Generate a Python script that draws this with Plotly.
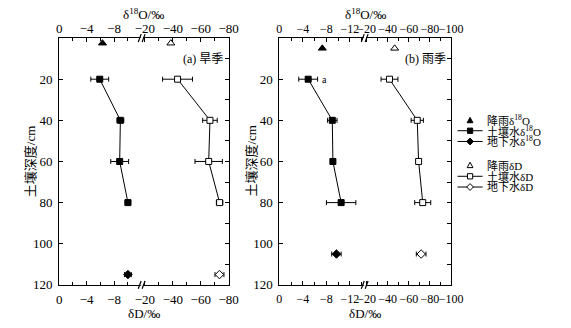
import plotly.graph_objects as go

W, H = 571, 328
FONT = "Liberation Serif, Noto Sans CJK SC, serif"

# ---------------- data ----------------
depth_soil = [20, 40, 60, 80]
depth_ticks = [20, 40, 60, 80, 100, 120]

# dry season (旱季)
dry_rain_depth = [2.5]
dry_rain_o18 = [-6.3]
dry_rain_dD = [-38.6]
dry_soil_o18 = [-5.9, -8.9, -8.8, -10.0]
dry_soil_o18_err = [1.3, 0.5, 1.3, 0.4]
dry_soil_dD = [-43.4, -66.6, -65.7, -73.5]
dry_soil_dD_err = [10.7, 5.2, 9.8, 2.3]
dry_gw_depth = [115]
dry_gw_o18 = [-10.0]
dry_gw_o18_err = [0.5]
dry_gw_dD = [-73.4]
dry_gw_dD_err = [3.2]
dry_o18_ticks = [0, -4, -8]
dry_dD_ticks = [-20, -40, -60, -80]

# rainy season (雨季)
wet_rain_depth = [5]
wet_rain_o18 = [-7.3]
wet_rain_dD = [-46.6]
wet_soil_o18 = [-4.9, -9.0, -9.1, -10.5]
wet_soil_o18_err = [1.6, 0.8, 0.0, 2.5]
wet_soil_dD = [-41.7, -68.0, -69.3, -73.2]
wet_soil_dD_err = [8.0, 5.8, 0.0, 7.6]
wet_gw_depth = [105]
wet_gw_o18 = [-9.7]
wet_gw_o18_err = [0.8]
wet_gw_dD = [-71.7]
wet_gw_dD_err = [4.6]
wet_o18_ticks = [0, -4, -8, -12]
wet_dD_ticks = [-20, -40, -60, -80, -100]

legend_labels = ["降雨δ<sup>18</sup>O", "土壤水δ<sup>18</sup>O", "地下水δ<sup>18</sup>O",
                 "降雨δD", "土壤水δD", "地下水δD"]


def px(x):
    return x / W


def py(y):
    return 1 - y / H


# plot-area geometry (pixels)
TOP, BOT = 39, 292
A_L, A_B, A_R = 54, 139.3, 229.3
B_L, B_B, B_R = 281.7, 370, 459.3
ydom = [py(BOT), py(TOP)]

fig = go.Figure()


def err(vals):
    return dict(type="data", array=vals, symmetric=True, color="black",
                thickness=1, width=2.5)


def add_series(x, y, e, xa, ya, symbol, filled, mode="markers"):
    size = {"square": 6, "diamond": 6.5, "triangle-up": 7}[symbol]
    fig.add_trace(go.Scatter(
        x=x, y=y, mode=mode, xaxis=xa, yaxis=ya, showlegend=False,
        error_x=err(e) if e is not None else None,
        line=dict(color="black", width=1),
        marker=dict(symbol=symbol, size=size,
                    color="black" if filled else "white",
                    line=dict(color="black", width=1)),
    ))


# panel (a): δ18O on top-left axis x3, δD on bottom-right axis x2
add_series(dry_rain_o18, dry_rain_depth, None, "x3", "y", "triangle-up", True)
add_series(dry_soil_o18, depth_soil, dry_soil_o18_err, "x3", "y", "square", True, "lines+markers")
add_series(dry_gw_o18, dry_gw_depth, dry_gw_o18_err, "x3", "y", "diamond", True)
add_series(dry_rain_dD, dry_rain_depth, None, "x2", "y", "triangle-up", False)
add_series(dry_soil_dD, depth_soil, dry_soil_dD_err, "x2", "y", "square", False, "lines+markers")
add_series(dry_gw_dD, dry_gw_depth, dry_gw_dD_err, "x2", "y", "diamond", False)

# panel (b): δ18O on top-left axis x7, δD on bottom-right axis x6
add_series(wet_rain_o18, wet_rain_depth, None, "x7", "y2", "triangle-up", True)
add_series(wet_soil_o18, depth_soil, wet_soil_o18_err, "x7", "y2", "square", True, "lines+markers")
add_series(wet_gw_o18, wet_gw_depth, wet_gw_o18_err, "x7", "y2", "diamond", True)
add_series(wet_rain_dD, wet_rain_depth, None, "x6", "y2", "triangle-up", False)
add_series(wet_soil_dD, depth_soil, wet_soil_dD_err, "x6", "y2", "square", False, "lines+markers")
add_series(wet_gw_dD, wet_gw_depth, wet_gw_dD_err, "x6", "y2", "diamond", False)

# empty traces so every axis pair is instantiated
for xa, ya in [("x", "y"), ("x4", "y"), ("x2", "y3"), ("x5", "y2"), ("x8", "y2"), ("x6", "y4")]:
    fig.add_trace(go.Scatter(x=[], y=[], xaxis=xa, yaxis=ya, showlegend=False))

tickfont = dict(family=FONT, size=13, color="black")
tickfont_b = dict(family=FONT, size=12, color="black")


def xax(domain, rng, tickvals, minor, side, anchor="y", overlaying=None, font=tickfont):
    d = dict(range=rng, tickmode="array", tickvals=tickvals, ticks="inside",
             ticklen=4, tickwidth=1, tickcolor="black", showline=True,
             linecolor="black", linewidth=1, showgrid=False, zeroline=False,
             side=side, anchor=anchor, tickfont=font, tickangle=0,
             ticklabelstandoff=(-1 if side == "top" else 3),
             minor=dict(tickmode="linear", tick0=0, dtick=minor, ticks="inside",
                        ticklen=2.5, tickcolor="black", showgrid=False))
    if overlaying:
        d["overlaying"] = overlaying
    else:
        d["domain"] = domain
    return d


def yax_left(anchor):
    return dict(domain=ydom, range=[120, 0], tickmode="array", tickvals=depth_ticks,
                ticks="inside", ticklen=4, tickcolor="black", showline=True,
                linecolor="black", linewidth=1, showgrid=False, zeroline=False,
                anchor=anchor, side="left", tickfont=tickfont, ticklabelstandoff=3)


def yax_right(overlay, anchor):
    return dict(range=[120, 0], tickmode="linear", tick0=0, dtick=10,
                ticks="inside", ticklen=4, tickcolor="black", showline=True,
                linecolor="black", linewidth=1, showgrid=False, zeroline=False,
                showticklabels=False, overlaying=overlay, anchor=anchor, side="right")


fig.update_layout(
    xaxis=xax([px(A_L), px(A_B)], [0, -12], dry_o18_ticks, 2, "bottom"),
    xaxis2=xax([px(A_B), px(A_R)], [-17.7, -80], dry_dD_ticks, 10, "bottom"),
    xaxis3=xax(None, [0, -12], dry_o18_ticks, 2, "top", overlaying="x"),
    xaxis4=xax(None, [-17.7, -80], dry_dD_ticks, 10, "top", overlaying="x2"),
    xaxis5=xax([px(B_L), px(B_B)], [0, -14.5], wet_o18_ticks, 2, "bottom",
               anchor="y2", font=tickfont_b),
    xaxis6=xax([px(B_B), px(B_R)], [-18.2, -100], wet_dD_ticks, 10, "bottom",
               anchor="y2", font=tickfont_b),
    xaxis7=xax(None, [0, -14.5], wet_o18_ticks, 2, "top", anchor="y2",
               overlaying="x5", font=tickfont_b),
    xaxis8=xax(None, [-18.2, -100], wet_dD_ticks, 10, "top", anchor="y2",
               overlaying="x6", font=tickfont_b),
    yaxis=yax_left("x"),
    yaxis2=yax_left("x5"),
    yaxis3=yax_right("y", "x2"),
    yaxis4=yax_right("y2", "x6"),
)

# ---------------- text ----------------
ann = []


def text(x, y, s, size=13, xanchor="center", angle=0):
    ann.append(dict(x=px(x), y=py(y), xref="paper", yref="paper", text=s,
                    showarrow=False, xanchor=xanchor, yanchor="middle",
                    textangle=angle, font=dict(family=FONT, size=size, color="black")))


for cx in [(A_L + A_R) / 2, (B_L + B_R) / 2]:
    text(cx, 14, "δ<sup>18</sup>O/‰")
    text(cx, 321, "δD/‰")
text(25, 165, "土壤深度/cm", angle=-90)
text(253, 165, "土壤深度/cm", angle=-90)
text(226, 60, "(a) 旱季", size=12, xanchor="right")
text(456, 60, "(b) 雨季", size=12, xanchor="right")
ann.append(dict(x=-7.6, y=20, xref="x7", yref="y2", text="a", showarrow=False,
                font=dict(family=FONT, size=10, color="black")))

# ---------------- axis breaks & legend ----------------
shapes = []


def seg(x0, y0, x1, y1, color="black", width=1):
    shapes.append(dict(type="line", xref="paper", yref="paper", x0=px(x0), y0=py(y0),
                       x1=px(x1), y1=py(y1), line=dict(color=color, width=width)))


def poly(pts, fill):
    path = "M " + " L ".join(f"{px(x):.5f},{py(y):.5f}" for x, y in pts) + " Z"
    shapes.append(dict(type="path", xref="paper", yref="paper", path=path,
                       fillcolor=fill, line=dict(color="black", width=1)))


for bx in [A_B, B_B]:
    for by in [TOP, BOT]:
        seg(bx - 1, by, bx + 1.5, by, color="white", width=2)
        seg(bx - 3.5, by + 4, bx - 0.5, by - 4, width=1.2)
        seg(bx + 0.5, by + 4, bx + 3.5, by - 4, width=1.2)

leg_rows = [123.3, 134, 145, 169.3, 180.7, 191.7]
leg_kind = ["tri", "sq", "dia", "tri", "sq", "dia"]
leg_line = [False, True, True, False, True, True]
LX0, LX1, LC, LT = 466, 492, 479, 494
for i, (ly, kind, has_line, label) in enumerate(zip(leg_rows, leg_kind, leg_line, legend_labels)):
    fill = "black" if i < 3 else "white"
    if has_line:
        seg(LX0, ly, LX1, ly)
    if kind == "tri":
        poly([(LC - 3, ly + 2.5), (LC + 3, ly + 2.5), (LC, ly - 3)], fill)
    elif kind == "sq":
        poly([(LC - 2.7, ly - 2.7), (LC + 2.7, ly - 2.7), (LC + 2.7, ly + 2.7), (LC - 2.7, ly + 2.7)], fill)
    else:
        poly([(LC, ly - 3.5), (LC + 3.5, ly), (LC, ly + 3.5), (LC - 3.5, ly)], fill)
    text(LT, ly, label, size=11, xanchor="left")

fig.update_layout(
    width=W, height=H, margin=dict(l=0, r=0, t=0, b=0),
    paper_bgcolor="white", plot_bgcolor="white",
    annotations=ann, shapes=shapes, showlegend=False,
    font=dict(family=FONT, color="black"),
)

fig.write_html("out.html")
